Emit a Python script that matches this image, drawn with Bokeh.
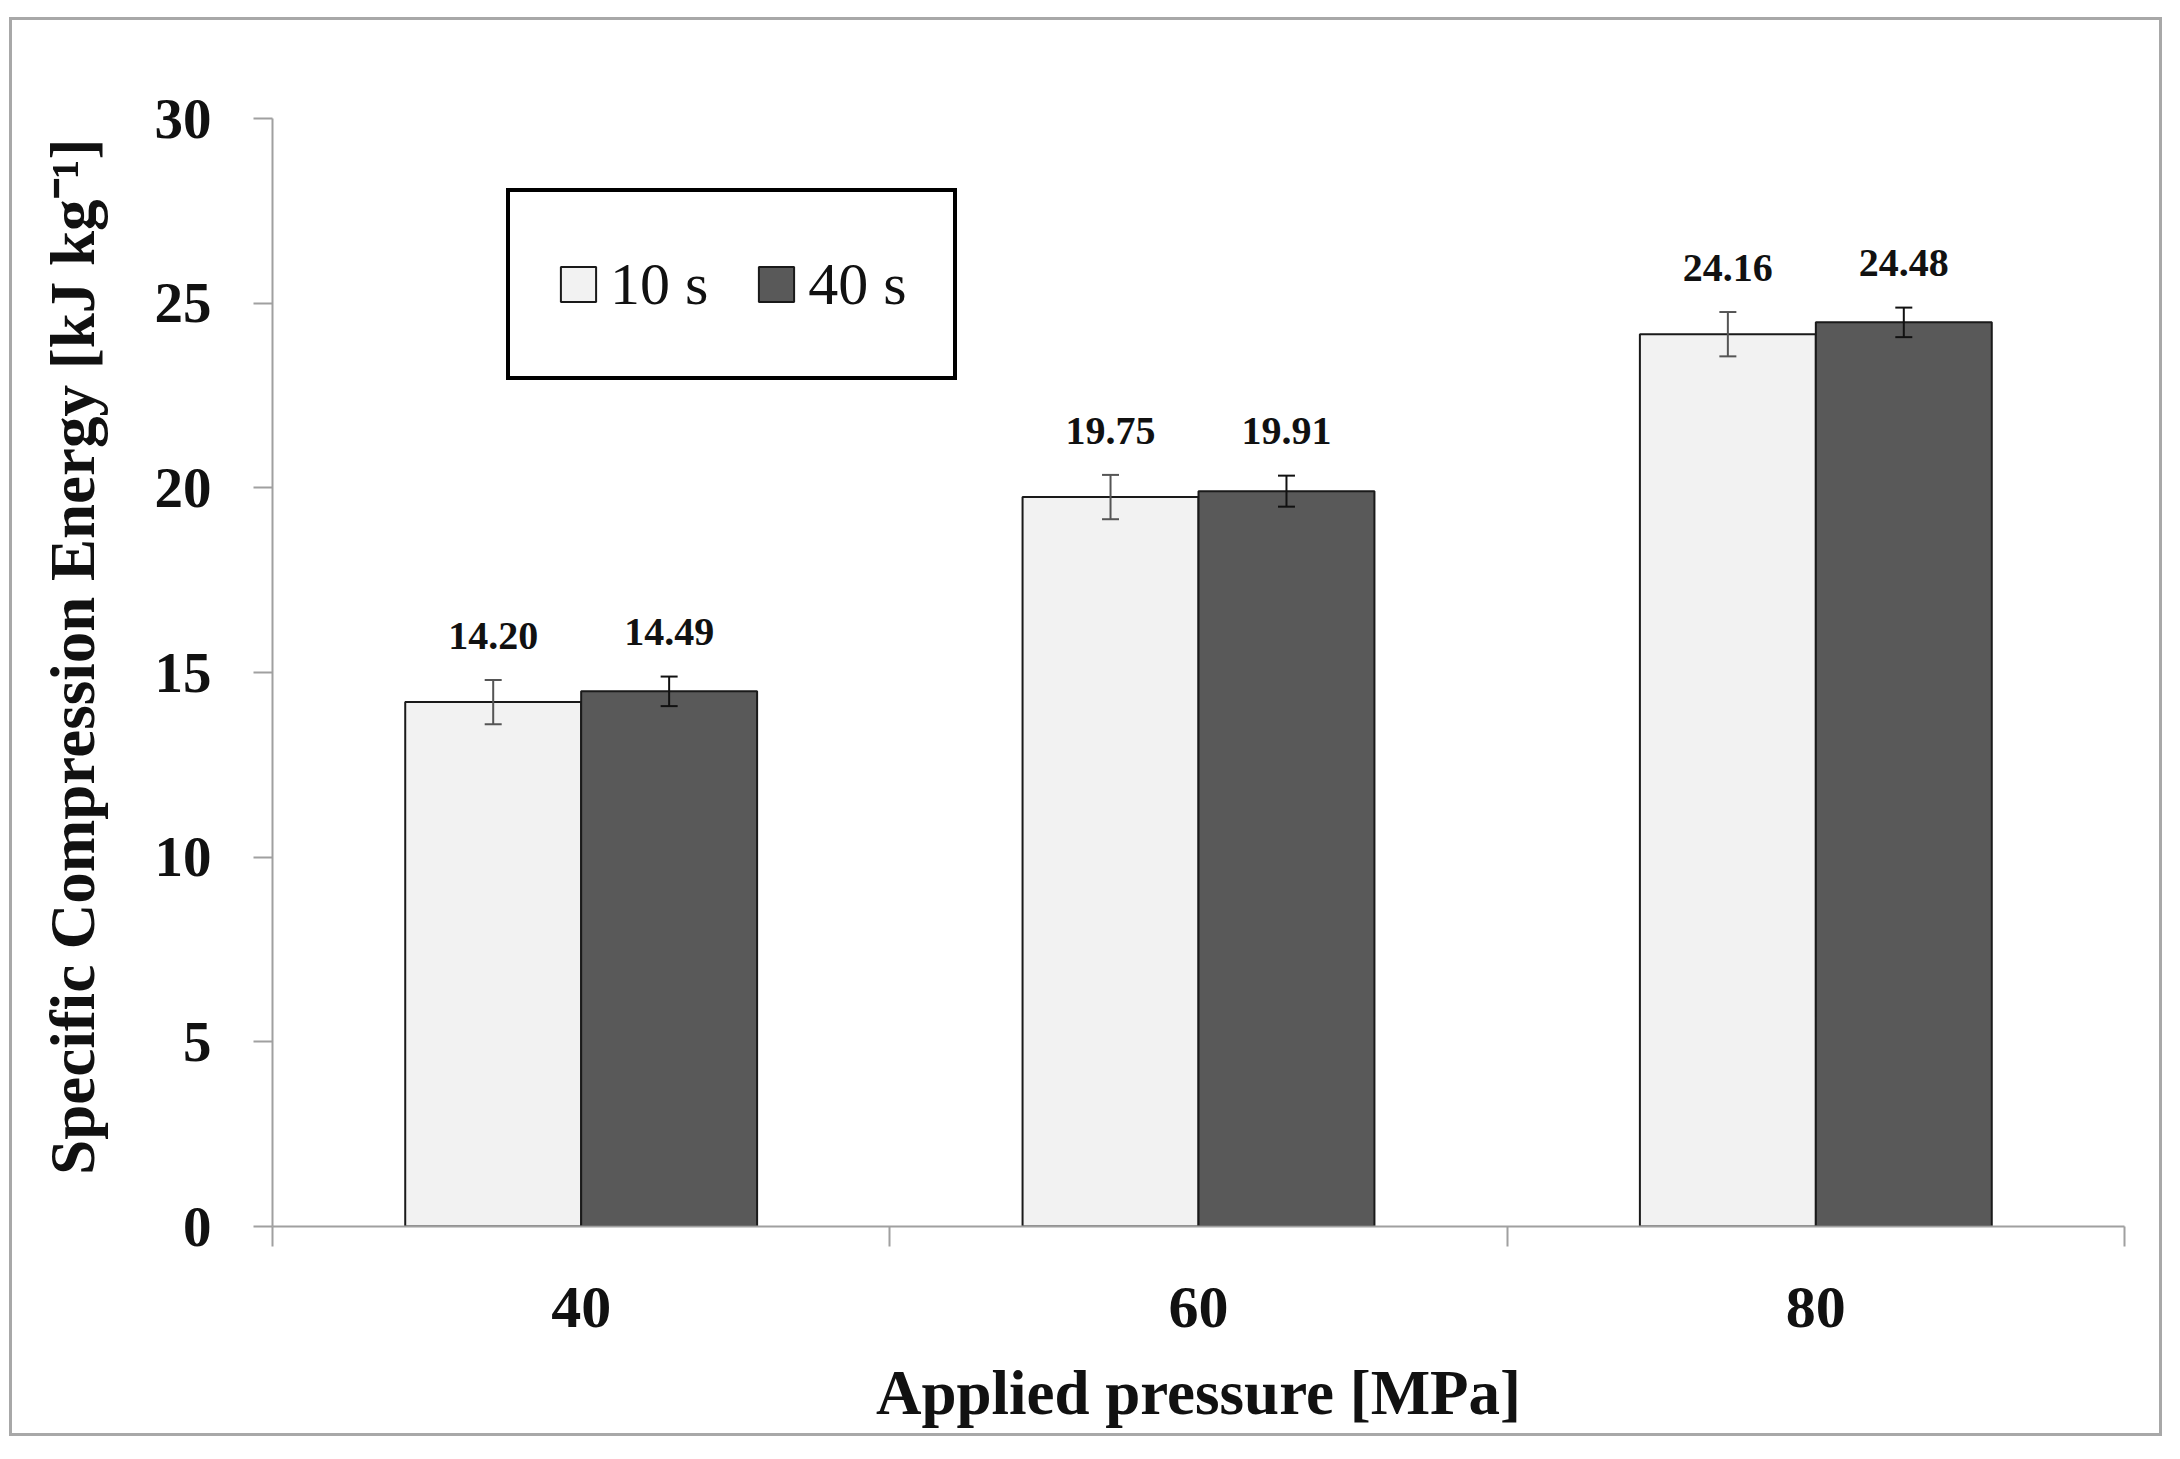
from bokeh.plotting import figure
from bokeh.models import (ColumnDataSource, FixedTicker, Whisker, TeeHead,
                          Legend, LegendItem, Range1d)
from bokeh.core.properties import value
from bokeh.embed import file_html
from bokeh.resources import INLINE

# ---- data ----
pressures = ["40", "60", "80"]
series_names = ["10 s", "40 s"]
energy_10s = [14.20, 19.75, 24.16]
energy_40s = [14.49, 19.91, 24.48]
err_10s = [0.60, 0.60, 0.60]
err_40s = [0.40, 0.42, 0.40]
y_ticks = [0, 5, 10, 15, 20, 25, 30]

FONT = "Liberation Serif"
BAR_W = 0.285

centers = [i + 0.5 for i in range(len(pressures))]


def make_src(vals, errs, shift):
    xs = [c + shift for c in centers]
    return ColumnDataSource(dict(
        x=xs, top=vals,
        upper=[v + e for v, e in zip(vals, errs)],
        lower=[v - e for v, e in zip(vals, errs)],
        ly=[v + e + 1.2 for v, e in zip(vals, errs)],
        label=["%.2f" % v for v in vals],
    ))


src10 = make_src(energy_10s, err_10s, -BAR_W / 2)
src40 = make_src(energy_40s, err_40s, BAR_W / 2)

p = figure(frame_width=1852, frame_height=1108, output_backend="svg",
           toolbar_location=None,
           x_range=Range1d(0, len(pressures)), y_range=Range1d(0, 30),
           min_border_left=260, min_border_right=35, min_border_top=98,
           min_border_bottom=207)
p.styles = {"border": "3px solid #a8a8a8", "margin-left": "9px",
            "margin-top": "17px"}
p.outline_line_color = None
p.grid.visible = False
p.background_fill_color = "white"

r10 = p.vbar(x="x", top="top", bottom=0, width=BAR_W, source=src10,
             fill_color="#f2f2f2", line_color="#1a1a1a", line_width=2)
r40 = p.vbar(x="x", top="top", bottom=0, width=BAR_W, source=src40,
             fill_color="#595959", line_color="#1a1a1a", line_width=2)

for src, col in ((src10, "#555555"), (src40, "#111111")):
    w = Whisker(source=src, base="x", upper="upper", lower="lower",
                line_color=col, line_width=2, level="overlay",
                upper_head=TeeHead(size=17, line_color=col, line_width=2),
                lower_head=TeeHead(size=17, line_color=col, line_width=2))
    p.add_layout(w)
    p.text(x="x", y="ly", text="label", source=src, text_align="center",
           text_baseline="middle", text_font=value(FONT),
           text_font_size="40px", text_font_style="bold", text_color="#111111")

# x axis
xa = p.xaxis[0]
xa.ticker = FixedTicker(ticks=centers, minor_ticks=list(range(len(pressures) + 1)))
xa.major_label_overrides = {c: lab for c, lab in zip(centers, pressures)}
xa.major_tick_out = 0
xa.major_tick_in = 0
xa.minor_tick_out = 20
xa.minor_tick_in = 0
xa.minor_tick_line_color = "#a0a0a0"
xa.minor_tick_line_width = 2
xa.axis_line_color = "#a0a0a0"
xa.axis_line_width = 2
xa.major_label_standoff = 41
xa.major_label_text_font = FONT
xa.major_label_text_font_size = "60px"
xa.major_label_text_font_style = "bold"
xa.major_label_text_color = "#111111"
xa.axis_label = "Applied pressure [MPa]"
xa.axis_label_text_font = FONT
xa.axis_label_text_font_size = "63px"
xa.axis_label_text_font_style = "bold"
xa.axis_label_text_color = "#111111"
xa.axis_label_standoff = 28

# y axis
ya = p.yaxis[0]
ya.ticker = FixedTicker(ticks=y_ticks)
ya.minor_tick_line_color = None
ya.major_tick_out = 19
ya.major_tick_in = 0
ya.major_tick_line_color = "#a0a0a0"
ya.major_tick_line_width = 2
ya.axis_line_color = "#a0a0a0"
ya.axis_line_width = 2
ya.major_label_standoff = 42
ya.major_label_text_font = FONT
ya.major_label_text_font_size = "57px"
ya.major_label_text_font_style = "bold"
ya.major_label_text_color = "#111111"
ya.axis_label = "\u00a0\u00a0Specific Compression Energy [kJ kg\u207b\u00b9]"
ya.axis_label_text_font = FONT
ya.axis_label_text_font_size = "63px"
ya.axis_label_text_font_style = "bold"
ya.axis_label_text_color = "#111111"
ya.axis_label_standoff = 44

legend = Legend(items=[LegendItem(label=series_names[0], renderers=[r10]),
                       LegendItem(label=series_names[1], renderers=[r40])],
                orientation="horizontal", location=(234, 846),
                border_line_color="black", border_line_width=4,
                border_line_alpha=1.0,
                padding=46, spacing=46, label_standoff=10,
                glyph_width=44, glyph_height=44, label_height=92,
                label_text_font=FONT, label_text_font_size="60px",
                label_text_color="#111111", background_fill_alpha=1.0)
p.add_layout(legend)

open("out.html", "w").write(file_html(p, INLINE))
